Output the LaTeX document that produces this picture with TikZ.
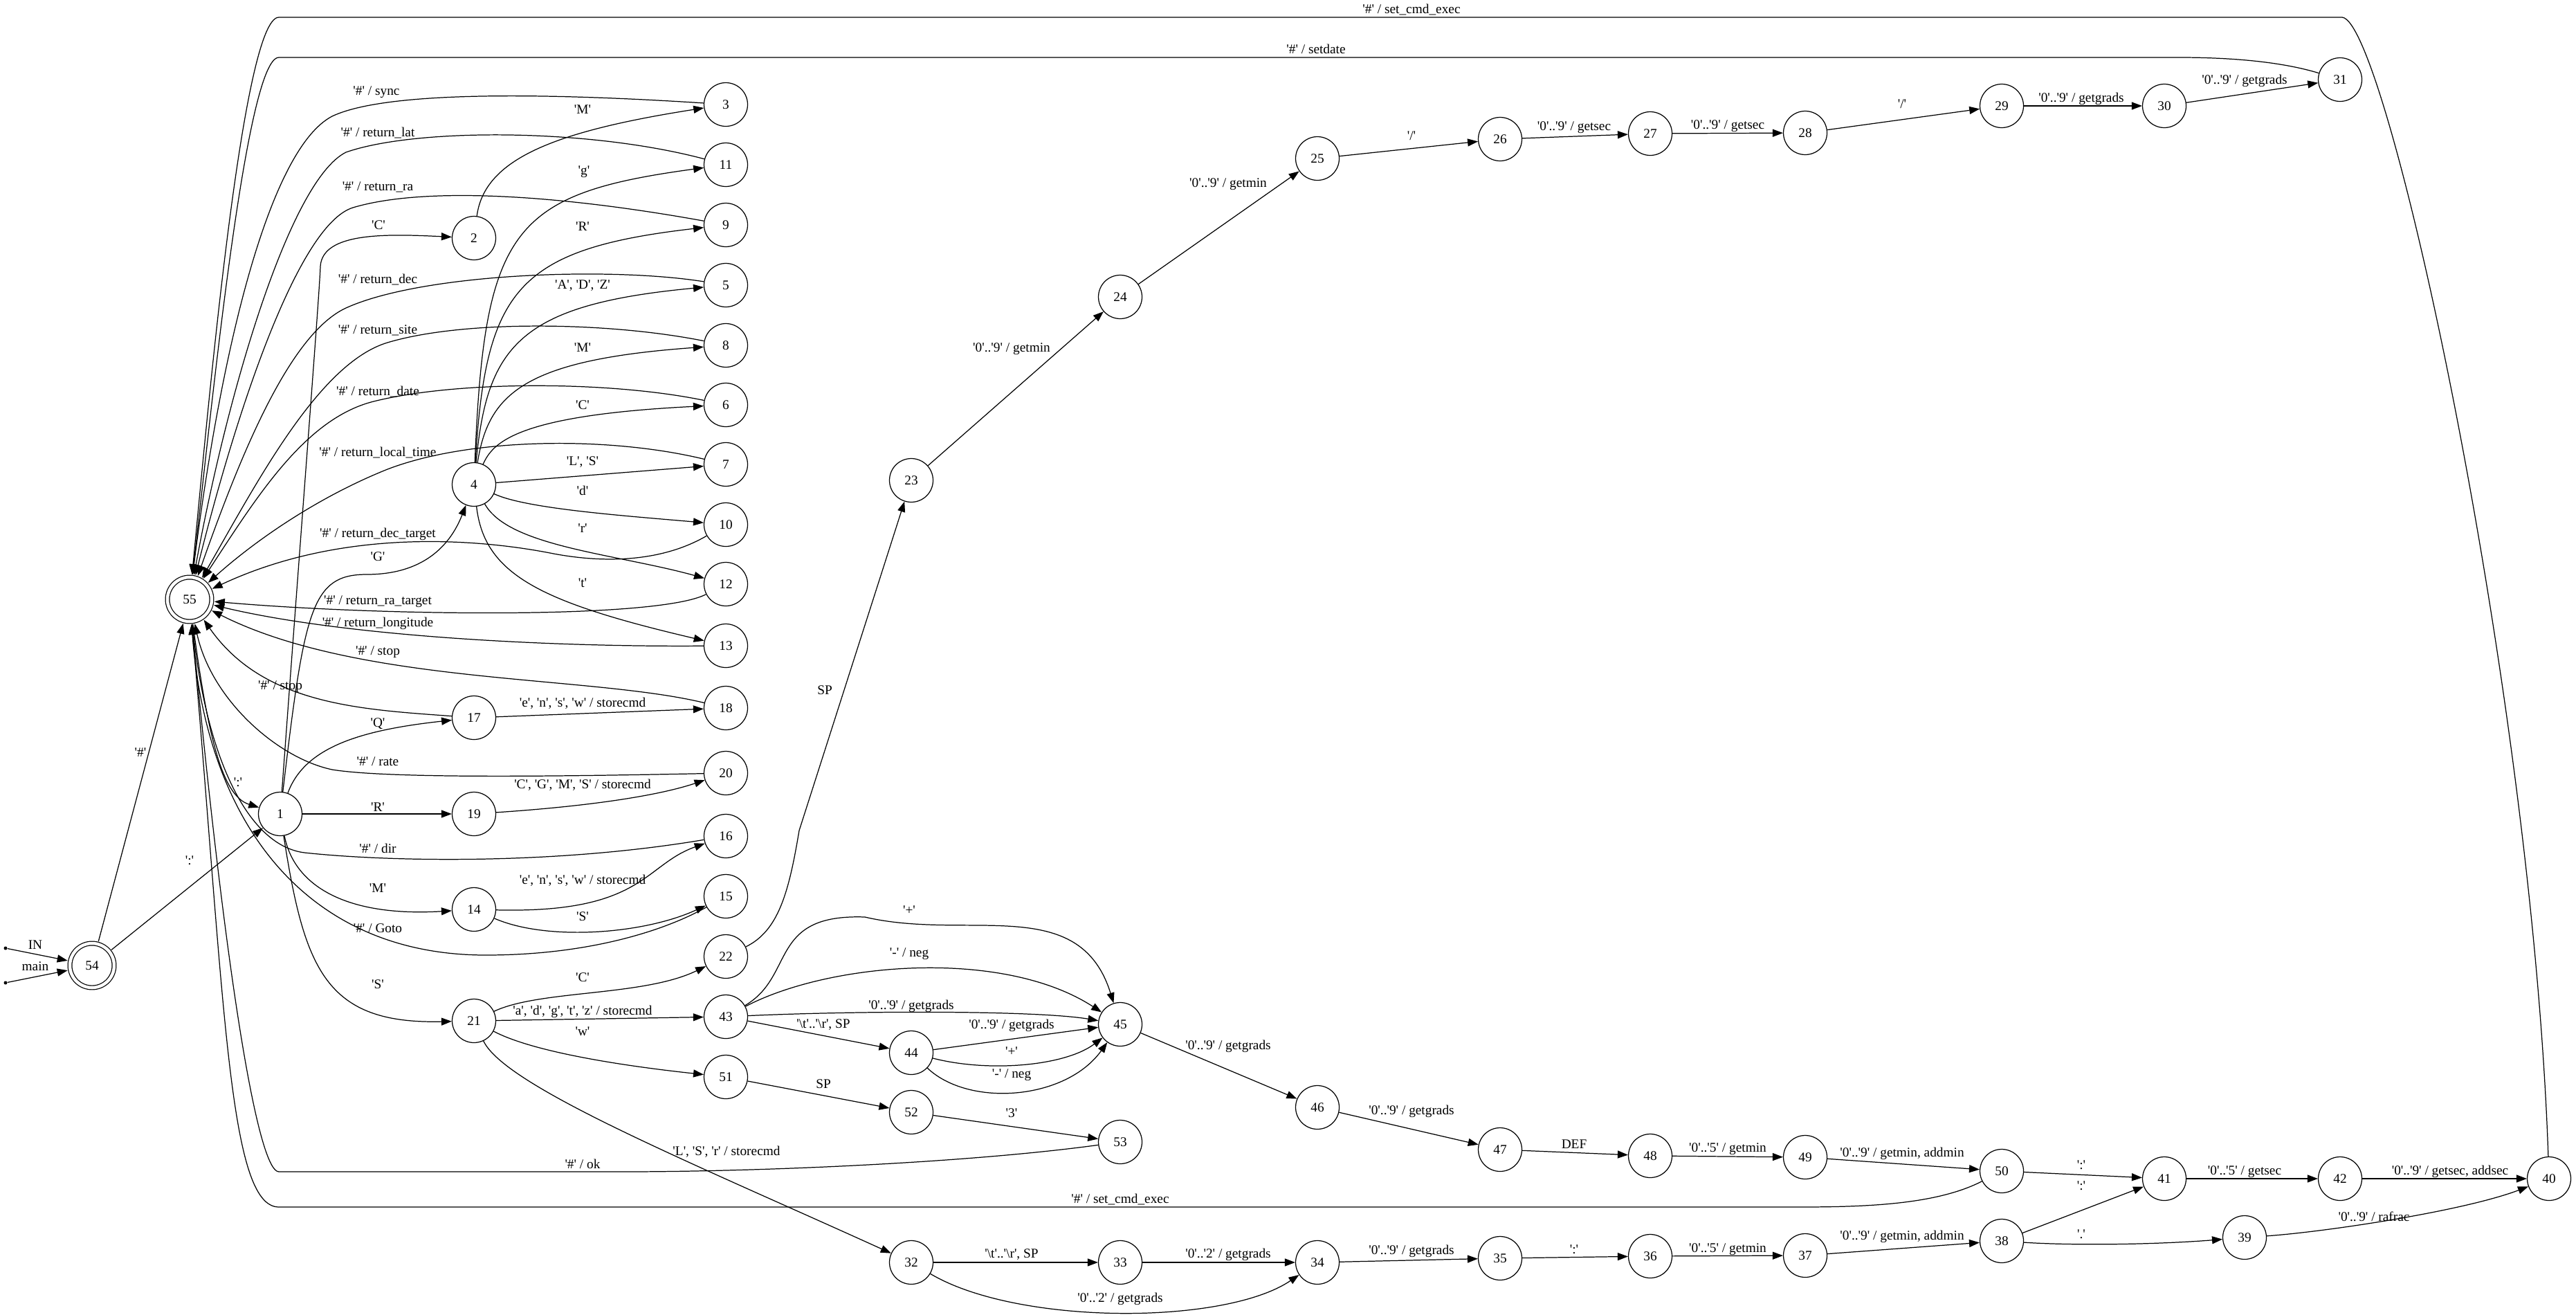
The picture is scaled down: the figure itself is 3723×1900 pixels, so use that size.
\documentclass[tikz,border=0pt]{standalone}
\usepackage{fontspec}
\newfontfamily\gvfont{Liberation Serif}
\usetikzlibrary{arrows.meta}

\begin{document}
\begin{tikzpicture}[
    x=0.02cm, y=-0.02cm,
    every node/.style={font=\gvfont\fontsize{11}{13}\selectfont},
    state/.style={circle, draw, line width=0.7pt, minimum size=1.26cm, inner sep=0pt},
    accept/.style={state, double, double distance=0.09cm, minimum size=1.28cm, outer sep=0.08cm},
    entry/.style={circle, fill, inner sep=0pt, minimum size=0.1cm},
    arrow/.style={->, >={Triangle[length=0.3cm, width=0.22cm]}, line width=0.7pt},
    lbl/.style={inner sep=0pt},
]
\useasboundingbox (0,0) rectangle (3723,1900);

% states
\node[entry] (sIN) at (8,1370) {};
\node[entry] (smain) at (8,1420) {};
\node[accept] (n54) at (133,1395) {54};
\node[accept] (n55) at (274,866) {55};
\node[state] (n1) at (405,1176) {1};
\node[state] (n2) at (685,344) {2};
\node[state] (n4) at (685,700) {4};
\node[state] (n17) at (685,1037) {17};
\node[state] (n19) at (685,1176) {19};
\node[state] (n14) at (685,1314) {14};
\node[state] (n21) at (685,1475) {21};
\node[state] (n3) at (1049,151) {3};
\node[state] (n11) at (1049,238) {11};
\node[state] (n9) at (1049,325) {9};
\node[state] (n5) at (1049,412) {5};
\node[state] (n8) at (1049,499) {8};
\node[state] (n6) at (1049,585) {6};
\node[state] (n7) at (1049,671) {7};
\node[state] (n10) at (1049,758) {10};
\node[state] (n12) at (1049,844) {12};
\node[state] (n13) at (1049,933) {13};
\node[state] (n18) at (1049,1023) {18};
\node[state] (n20) at (1049,1117) {20};
\node[state] (n16) at (1049,1208) {16};
\node[state] (n15) at (1049,1295) {15};
\node[state] (n22) at (1049,1382) {22};
\node[state] (n43) at (1049,1469) {43};
\node[state] (n51) at (1049,1556) {51};
\node[state] (n23) at (1317,694) {23};
\node[state] (n24) at (1619,429) {24};
\node[state] (n25) at (1904,229) {25};
\node[state] (n26) at (2168,201) {26};
\node[state] (n27) at (2385,193) {27};
\node[state] (n28) at (2609,192) {28};
\node[state] (n29) at (2893,153) {29};
\node[state] (n30) at (3128,153) {30};
\node[state] (n31) at (3382,115) {31};
\node[state] (n44) at (1317,1521) {44};
\node[state] (n45) at (1619,1480) {45};
\node[state] (n52) at (1317,1607) {52};
\node[state] (n53) at (1619,1650) {53};
\node[state] (n46) at (1904,1600) {46};
\node[state] (n47) at (2168,1661) {47};
\node[state] (n48) at (2385,1670) {48};
\node[state] (n49) at (2609,1672) {49};
\node[state] (n50) at (2893,1692) {50};
\node[state] (n41) at (3128,1703) {41};
\node[state] (n42) at (3382,1703) {42};
\node[state] (n40) at (3684,1703) {40};
\node[state] (n39) at (3244,1788) {39};
\node[state] (n38) at (2893,1793) {38};
\node[state] (n37) at (2609,1814) {37};
\node[state] (n36) at (2385,1815) {36};
\node[state] (n35) at (2168,1818) {35};
\node[state] (n34) at (1904,1824) {34};
\node[state] (n33) at (1619,1824) {33};
\node[state] (n32) at (1317,1824) {32};

% transitions
\draw[arrow] (sIN) -- (n54);
\draw[arrow] (smain) -- (n54);
\draw[arrow] (n54) -- (n55);
\draw[arrow] (n54) -- (n1);
\draw[arrow] (n55) .. controls (300,1060) and (320,1150) .. (n1);
\draw[arrow] (n1) .. controls (440,700) and (462,420) .. (463,385) .. controls (466,335) and (560,338) .. (n2);
\draw[arrow] (n1) .. controls (440,880) and (450,830) .. (530,830) .. controls (610,830) and (650,790) .. (n4);
\draw[arrow] (n1) .. controls (440,1080) and (520,1055) .. (n17);
\draw[arrow] (n1) -- (n19);
\draw[arrow] (n1) .. controls (425,1280) and (500,1325) .. (n14);
\draw[arrow] (n1) .. controls (440,1400) and (470,1480) .. (n21);
\draw[arrow] (n2) .. controls (700,230) and (800,190) .. (n3);
\draw[arrow] (n4) .. controls (700,330) and (740,280) .. (n11);
\draw[arrow] (n4) .. controls (702,420) and (745,360) .. (n9);
\draw[arrow] (n4) .. controls (704,500) and (750,440) .. (n5);
\draw[arrow] (n4) .. controls (706,570) and (755,520) .. (n8);
\draw[arrow] (n4) .. controls (712,640) and (745,600) .. (n6);
\draw[arrow] (n4) -- (n7);
\draw[arrow] (n4) .. controls (760,735) and (900,745) .. (n10);
\draw[arrow] (n4) .. controls (735,790) and (890,800) .. (n12);
\draw[arrow] (n4) .. controls (700,830) and (780,870) .. (n13);
\draw[arrow] (n3) .. controls (800,135) and (560,130) .. (480,168) .. controls (390,215) and (320,500) .. (n55);
\draw[arrow] (n11) .. controls (850,185) and (600,185) .. (500,220) .. controls (420,260) and (330,560) .. (n55);
\draw[arrow] (n9) .. controls (800,280) and (610,270) .. (510,300) .. controls (430,325) and (340,600) .. (n55);
\draw[arrow] (n5) .. controls (880,385) and (610,395) .. (500,445) .. controls (420,482) and (350,650) .. (n55);
\draw[arrow] (n8) .. controls (880,465) and (670,462) .. (560,495) .. controls (460,525) and (370,700) .. (n55);
\draw[arrow] (n6) .. controls (880,550) and (660,550) .. (540,580) .. controls (440,605) and (370,720) .. (n55);
\draw[arrow] (n7) .. controls (880,630) and (680,632) .. (560,678) .. controls (460,718) and (370,780) .. (n55);
\draw[arrow] (n10) .. controls (960,810) and (880,815) .. (800,800) .. controls (700,780) and (500,760) .. (n55);
\draw[arrow] (n12) .. controls (950,895) and (550,890) .. (n55);
\draw[arrow] (n13) .. controls (800,935) and (500,920) .. (n55);
\draw[arrow] (n18) .. controls (850,975) and (520,990) .. (n55);
\draw[arrow] (n17) .. controls (520,1025) and (380,1018) .. (n55);
\draw[arrow] (n20) .. controls (800,1122) and (560,1125) .. (480,1112) .. controls (400,1095) and (305,1010) .. (n55);
\draw[arrow] (n16) .. controls (800,1250) and (560,1245) .. (440,1232) .. controls (360,1222) and (300,1100) .. (n55);
\draw[arrow] (n15) .. controls (960,1345) and (850,1380) .. (702,1380) .. controls (450,1380) and (300,1200) .. (n55);
\draw[arrow] (n53) .. controls (1400,1680) and (1100,1693) .. (900,1693) -- (403,1693) .. controls (375,1693) and (330,1450) .. (n55);
\draw[arrow] (n50) .. controls (2800,1740) and (2700,1744) .. (2600,1744) -- (403,1744) .. controls (330,1744) and (325,1450) .. (n55);
\draw[arrow] (n40) .. controls (3660,1000) and (3450,30) .. (3385,25) -- (403,25) .. controls (350,25) and (300,600) .. (n55);
\draw[arrow] (n31) .. controls (3300,90) and (3230,83) .. (3149,83) -- (403,83) .. controls (355,83) and (305,600) .. (n55);
\draw[arrow] (n17) -- (n18);
\draw[arrow] (n19) .. controls (850,1165) and (950,1150) .. (n20);
\draw[arrow] (n14) .. controls (930,1320) and (930,1250) .. (n16);
\draw[arrow] (n14) .. controls (790,1360) and (930,1350) .. (n15);
\draw[arrow] (n21) .. controls (780,1430) and (930,1440) .. (n22);
\draw[arrow] (n21) -- (n43);
\draw[arrow] (n21) .. controls (770,1520) and (900,1540) .. (n51);
\draw[arrow] (n21) .. controls (730,1570) and (1000,1680) .. (n32);
\draw[arrow] (n22) .. controls (1125,1345) and (1140,1290) .. (1155,1200) -- (n23);
\draw[arrow] (n23) -- (n24);
\draw[arrow] (n24) -- (n25);
\draw[arrow] (n25) -- (n26);
\draw[arrow] (n26) -- (n27);
\draw[arrow] (n27) -- (n28);
\draw[arrow] (n28) -- (n29);
\draw[arrow] (n29) -- (n30);
\draw[arrow] (n30) -- (n31);
\draw[arrow] (n43) .. controls (1150,1410) and (1110,1320) .. (1250,1325) .. controls (1400,1360) and (1560,1290) .. (n45);
\draw[arrow] (n43) .. controls (1200,1390) and (1450,1370) .. (n45);
\draw[arrow] (n43) .. controls (1250,1460) and (1500,1460) .. (n45);
\draw[arrow] (n43) -- (n44);
\draw[arrow] (n44) -- (n45);
\draw[arrow] (n44) .. controls (1430,1550) and (1540,1540) .. (n45);
\draw[arrow] (n44) .. controls (1400,1600) and (1540,1590) .. (n45);
\draw[arrow] (n51) -- (n52);
\draw[arrow] (n52) -- (n53);
\draw[arrow] (n45) -- (n46);
\draw[arrow] (n46) -- (n47);
\draw[arrow] (n47) -- (n48);
\draw[arrow] (n48) -- (n49);
\draw[arrow] (n49) -- (n50);
\draw[arrow] (n50) -- (n41);
\draw[arrow] (n41) -- (n42);
\draw[arrow] (n42) -- (n40);
\draw[arrow] (n39) .. controls (3360,1780) and (3560,1750) .. (n40);
\draw[arrow] (n32) -- (n33);
\draw[arrow] (n33) -- (n34);
\draw[arrow] (n32) .. controls (1470,1915) and (1770,1915) .. (n34);
\draw[arrow] (n34) -- (n35);
\draw[arrow] (n35) -- (n36);
\draw[arrow] (n36) -- (n37);
\draw[arrow] (n37) -- (n38);
\draw[arrow] (n38) -- (n41);
\draw[arrow] (n38) .. controls (3000,1800) and (3120,1798) .. (n39);

% labels
\node[lbl] (tIN) at (51,1365) {IN};
\node[lbl] (tmain) at (51,1396) {main};
\node[lbl] (t54-55) at (203,1087) {'\#'};
\node[lbl] (t54-1) at (274,1243) {':'};
\node[lbl] (t55-1) at (344,1130) {':'};
\node[lbl] (t1-2) at (547,325) {'C'};
\node[lbl] (t1-4) at (546,804) {'G'};
\node[lbl] (t1-17) at (546,1046) {'Q'};
\node[lbl] (t1-19) at (546,1166) {'R'};
\node[lbl] (t1-14) at (546,1283) {'M'};
\node[lbl] (t1-21) at (546,1422) {'S'};
\node[lbl] (t2-3) at (842,158) {'M'};
\node[lbl] (t4-11) at (844,248) {'g'};
\node[lbl] (t4-9) at (842,327) {'R'};
\node[lbl] (t4-5) at (842,413) {'A', 'D', 'Z'};
\node[lbl] (t4-8) at (842,502) {'M'};
\node[lbl] (t4-6) at (842,585) {'C'};
\node[lbl] (t4-7) at (842,668) {'L', 'S'};
\node[lbl] (t4-10) at (842,709) {'d'};
\node[lbl] (t4-12) at (842,763) {'r'};
\node[lbl] (t4-13) at (842,842) {'t'};
\node[lbl] (t3-55) at (544,133) {'\#' / sync};
\node[lbl] (t11-55) at (546,192) {'\#' / return\_lat};
\node[lbl] (t9-55) at (546,270) {'\#' / return\_ra};
\node[lbl] (t5-55) at (546,404) {'\#' / return\_dec};
\node[lbl] (t8-55) at (546,477) {'\#' / return\_site};
\node[lbl] (t6-55) at (546,566) {'\#' / return\_date};
\node[lbl] (t7-55) at (546,654) {'\#' / return\_local\_time};
\node[lbl] (t10-55) at (546,772) {'\#' / return\_dec\_target};
\node[lbl] (t12-55) at (546,869) {'\#' / return\_ra\_target};
\node[lbl] (t13-55) at (546,901) {'\#' / return\_longitude};
\node[lbl] (t18-55) at (546,942) {'\#' / stop};
\node[lbl] (t17-55) at (405,992) {'\#' / stop};
\node[lbl] (t17-18) at (842,1016) {'e', 'n', 's', 'w' / storecmd};
\node[lbl] (t20-55) at (546,1100) {'\#' / rate};
\node[lbl] (t19-20) at (842,1134) {'C', 'G', 'M', 'S' / storecmd};
\node[lbl] (t16-55) at (546,1226) {'\#' / dir};
\node[lbl] (t14-16) at (842,1272) {'e', 'n', 's', 'w' / storecmd};
\node[lbl] (t14-15) at (842,1324) {'S'};
\node[lbl] (t15-55) at (546,1341) {'\#' / Goto};
\node[lbl] (t21-22) at (842,1412) {'C'};
\node[lbl] (t21-43) at (842,1462) {'a', 'd', 'g', 't', 'z' / storecmd};
\node[lbl] (t21-51) at (842,1490) {'w'};
\node[lbl] (t21-32) at (1050,1664) {'L', 'S', 'r' / storecmd};
\node[lbl] (t53-55) at (842,1682) {'\#' / ok};
\node[lbl] (t50-55) at (1619,1733) {'\#' / set\_cmd\_exec};
\node[lbl] (t40-55) at (2040,14) {'\#' / set\_cmd\_exec};
\node[lbl] (t31-55) at (1902,71) {'\#' / setdate};
\node[lbl] (t22-23) at (1192,997) {SP};
\node[lbl] (t23-24) at (1462,504) {'0'..'9' / getmin};
\node[lbl] (t24-25) at (1775,266) {'0'..'9' / getmin};
\node[lbl] (t25-26) at (2040,196) {'/'};
\node[lbl] (t26-27) at (2275,184) {'0'..'9' / getsec};
\node[lbl] (t27-28) at (2497,182) {'0'..'9' / getsec};
\node[lbl] (t28-29) at (2749,150) {'/'};
\node[lbl] (t29-30) at (3008,143) {'0'..'9' / getgrads};
\node[lbl] (t30-31) at (3244,117) {'0'..'9' / getgrads};
\node[lbl] (t43-45a) at (1314,1315) {'+'};
\node[lbl] (t43-45b) at (1314,1378) {'-' / neg};
\node[lbl] (t43-45c) at (1317,1454) {'0'..'9' / getgrads};
\node[lbl] (t43-44) at (1190,1481) {'\textbackslash t'..'\textbackslash r', SP};
\node[lbl] (t44-45a) at (1462,1482) {'0'..'9' / getgrads};
\node[lbl] (t44-45b) at (1462,1519) {'+'};
\node[lbl] (t44-45c) at (1462,1553) {'-' / neg};
\node[lbl] (t51-52) at (1190,1566) {SP};
\node[lbl] (t52-53) at (1462,1608) {'3'};
\node[lbl] (t45-46) at (1775,1512) {'0'..'9' / getgrads};
\node[lbl] (t46-47) at (2040,1606) {'0'..'9' / getgrads};
\node[lbl] (t47-48) at (2275,1653) {DEF};
\node[lbl] (t48-49) at (2497,1660) {'0'..'5' / getmin};
\node[lbl] (t49-50) at (2749,1667) {'0'..'9' / getmin, addmin};
\node[lbl] (t50-41) at (3008,1683) {':'};
\node[lbl] (t38-41) at (3008,1713) {':'};
\node[lbl] (t38-39) at (3008,1783) {'.'};
\node[lbl] (t41-42) at (3244,1693) {'0'..'5' / getsec};
\node[lbl] (t42-40) at (3541,1693) {'0'..'9' / getsec, addsec};
\node[lbl] (t39-40) at (3431,1758) {'0'..'9' / rafrac};
\node[lbl] (t37-38) at (2749,1787) {'0'..'9' / getmin, addmin};
\node[lbl] (t36-37) at (2497,1805) {'0'..'5' / getmin};
\node[lbl] (t35-36) at (2275,1805) {':'};
\node[lbl] (t34-35) at (2040,1808) {'0'..'9' / getgrads};
\node[lbl] (t33-34) at (1775,1813) {'0'..'2' / getgrads};
\node[lbl] (t32-33) at (1462,1813) {'\textbackslash t'..'\textbackslash r', SP};
\node[lbl] (t32-34) at (1619,1877) {'0'..'2' / getgrads};
\end{tikzpicture}
\end{document}
